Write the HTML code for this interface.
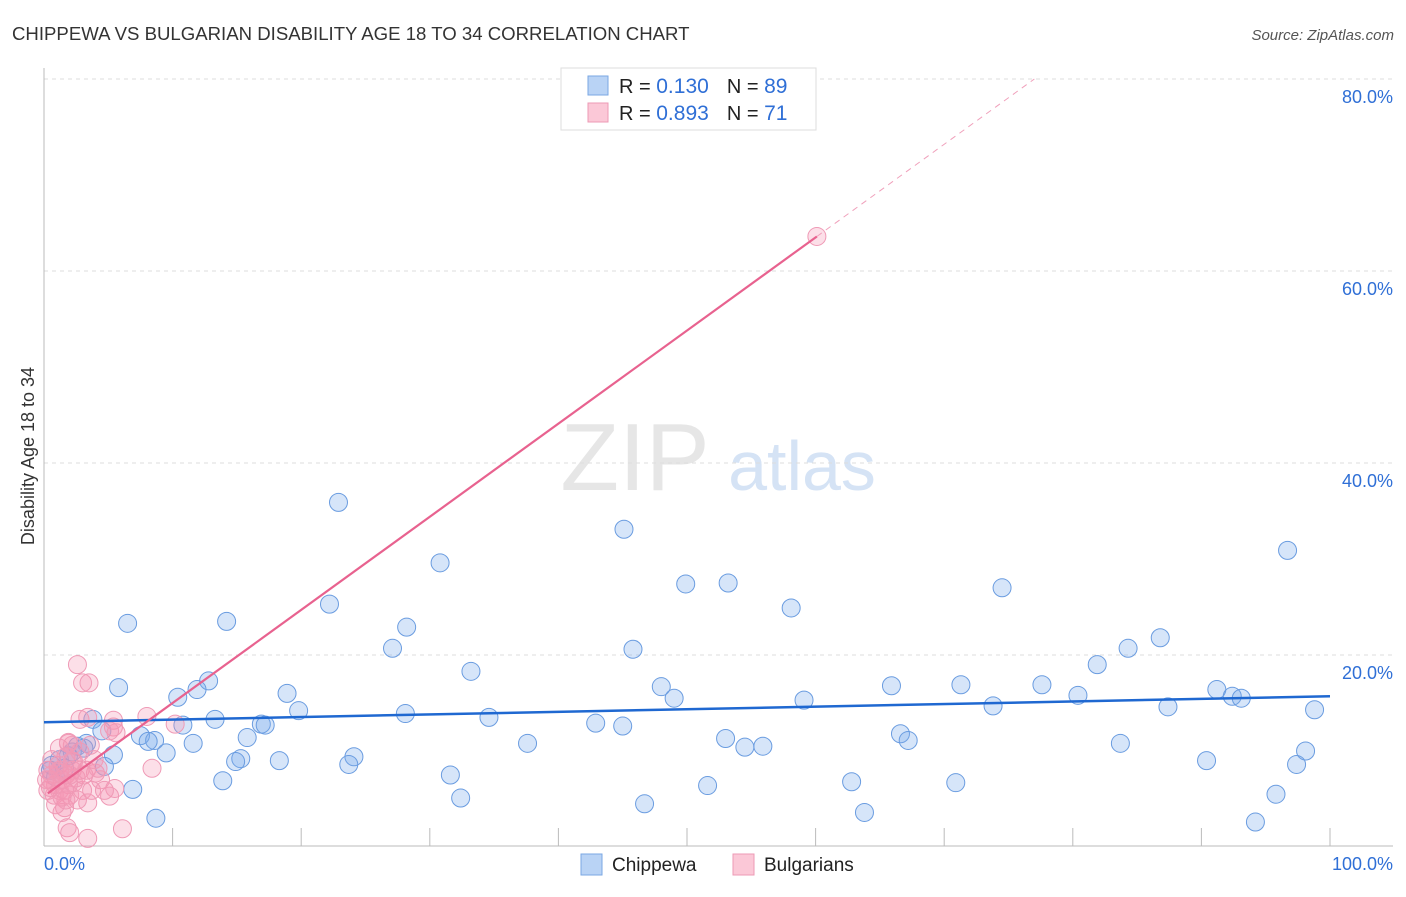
<!DOCTYPE html>
<html><head><meta charset="utf-8"><style>
body{margin:0;background:#fff;font-family:"Liberation Sans",sans-serif;}
svg text{font-family:"Liberation Sans",sans-serif;}
</style></head><body>
<svg id="chart" width="1406" height="892" xmlns="http://www.w3.org/2000/svg">
<text x="12" y="40" font-size="18.6" fill="#333">CHIPPEWA VS BULGARIAN DISABILITY AGE 18 TO 34 CORRELATION CHART</text>
<text x="1394" y="40" font-size="15" fill="#555" text-anchor="end" font-style="italic">Source: ZipAtlas.com</text>
<text x="34" y="456" font-size="18" fill="#333" text-anchor="middle" transform="rotate(-90 34 456)">Disability Age 18 to 34</text>
<g><text x="635" y="490" font-size="96" fill="#e6e6e6" text-anchor="middle" font-family="Liberation Serif">ZIP</text><text x="802" y="490" font-size="70" fill="#d5e3f5" text-anchor="middle">atlas</text></g>
<g id="grid"></g><g id="axes"></g><g id="pts"></g><g id="lines"></g>
<g>
<rect x="561" y="68" width="255" height="62" fill="#fff" stroke="#ddd"/>
<rect x="588" y="76" width="20" height="19" fill="#b9d3f5" stroke="#7aa7e3"/>
<rect x="588" y="103" width="20" height="19" fill="#fbc8d7" stroke="#ec9ab4"/>
<text x="619" y="93" font-size="20" fill="#222">R = <tspan fill="#2f6fd6" font-size="21">0.130</tspan><tspan dx="18">N = </tspan><tspan fill="#2f6fd6" font-size="21">89</tspan></text>
<text x="619" y="120" font-size="20" fill="#222">R = <tspan fill="#2f6fd6" font-size="21">0.893</tspan><tspan dx="18">N = </tspan><tspan fill="#2f6fd6" font-size="21"> 71</tspan></text>
</g>
<g>
<rect x="581" y="854" width="21" height="21" fill="#b9d3f5" stroke="#7aa7e3"/>
<text x="612" y="871" font-size="19" fill="#222">Chippewa</text>
<rect x="733" y="854" width="21" height="21" fill="#fbc8d7" stroke="#ec9ab4"/>
<text x="764" y="871" font-size="19" fill="#222">Bulgarians</text>
</g>
</svg>
<script>
const yTicks=[20,40,60,80];
const yTickLabels=["20.0%","40.0%","60.0%","80.0%"];
const xLabels=["0.0%","100.0%"];
const blueX=[22.9,45.1,30.8,96.7,49.9,53.2,74.5,22.2,58.1,6.5,14.2,28.2,86.8,27.1,45.8,84.3,81.9,33.2,5.8,12.8,11.9,10.4,48.0,49.0,65.9,71.3,77.6,80.4,91.2,92.4,93.1,59.1,18.9,73.8,87.4,98.8,19.8,3.8,13.3,34.6,28.1,16.9,17.2,10.8,42.9,45.0,4.5,7.5,8.6,8.1,15.8,11.6,3.3,2.6,53.0,66.6,67.2,37.6,54.5,55.9,83.7,9.5,5.4,98.1,24.1,15.3,14.9,18.3,23.7,90.4,97.4,31.6,13.9,62.8,70.9,51.6,6.9,32.4,46.7,95.8,63.8,8.7,94.2,0.6,1.2,1.9,2.2,0.5,3.1,4.7,0.9,1.6];
const blueY=[35.9,33.1,29.6,30.9,27.4,27.5,27.0,25.3,24.9,23.3,23.5,22.9,21.8,20.7,20.6,20.7,19.0,18.3,16.6,17.3,16.4,15.6,16.7,15.5,16.8,16.9,16.9,15.8,16.4,15.7,15.5,15.3,16.0,14.7,14.6,14.3,14.2,13.3,13.3,13.5,13.9,12.8,12.7,12.7,12.9,12.6,12.1,11.6,11.1,11.0,11.4,10.8,10.8,10.5,11.3,11.8,11.1,10.8,10.4,10.5,10.8,9.8,9.6,10.0,9.4,9.2,8.9,9.0,8.6,9.0,8.6,7.5,6.9,6.8,6.7,6.4,6.0,5.1,4.5,5.5,3.6,3.0,2.6,8.5,9.1,9.5,9.9,8.0,10.3,8.4,7.3,8.2];
const pinkX=[60.1,2.6,3.0,3.5,2.8,3.4,8.0,5.4,10.2,1.9,3.6,5.4,5.6,5.1,8.4,1.7,2.2,1.1,2.8,4.0,1.4,2.3,4.4,5.5,3.0,2.0,5.1,3.4,1.6,1.4,1.8,2.0,3.4,6.1,0.6,0.9,0.3,0.5,1.2,1.7,2.2,2.5,0.8,1.2,1.9,2.6,3.1,3.7,0.3,0.6,1.1,1.6,2.0,0.2,2.3,3.3,4.2,4.7,1.7,0.9,1.4,0.5,2.8,3.9,2.2,1.2,1.9];
const pinkY=[63.6,19.0,17.1,17.1,13.3,13.5,13.6,13.2,12.8,10.8,10.6,12.5,11.9,12.1,8.2,9.4,8.9,8.5,8.0,7.7,7.0,6.7,7.0,6.1,5.9,5.4,5.3,4.6,4.1,3.6,2.0,1.5,0.9,1.9,7.5,6.5,5.9,7.0,8.0,7.5,8.0,7.2,5.4,5.9,6.5,4.9,7.5,5.9,8.0,9.1,7.8,5.9,7.5,7.0,8.9,8.0,8.2,5.9,4.9,4.4,5.2,6.2,9.9,9.1,10.6,10.3,10.9];
const blueFit=[13.0,15.7];
const pinkFit=[5.3,0.97];
const NS='http://www.w3.org/2000/svg';
const X=v=>44+v*12.86, Y=v=>847-v*9.6;
function mk(t,a,p){const e=document.createElementNS(NS,t);for(const k in a)e.setAttribute(k,a[k]);p.appendChild(e);return e;}
const grid=document.getElementById('grid'),axes=document.getElementById('axes'),pts=document.getElementById('pts'),lines=document.getElementById('lines');
yTicks.forEach((t,i)=>{
 const l=mk('line',{x1:44,x2:1393,y1:Y(t),y2:Y(t),stroke:'#ddd','stroke-dasharray':'4,4'},grid);
 
 
 const tx=mk('text',{x:1393,y:Y(t)+24,'font-size':18,fill:'#2f6fd6','text-anchor':'end'},axes);
 tx.textContent=yTickLabels[i];
 
 
});
const ya=mk('line',{x1:44,x2:44,y1:68,y2:846,stroke:'#bbb'},axes);


const xa=mk('line',{x1:44,x2:1393,y1:846,y2:846,stroke:'#bbb'},axes);


for(let v=10;v<=100;v+=10){const t=mk('line',{x1:X(v),x2:X(v),y1:828,y2:846,stroke:'#bbb'},axes);
 
 }
[[0,'start',44],[100,'end',1393]].forEach((d,i)=>{const t=mk('text',{x:d[2],y:870,'font-size':18,fill:'#2f6fd6','text-anchor':d[1]},axes);t.textContent=xLabels[i];
 
 });
blueX.forEach((x,i)=>{const c=mk('circle',{cx:X(x),cy:Y(blueY[i]),r:9,fill:'rgba(120,170,235,0.3)',stroke:'#6a9ce0','stroke-width':1},pts);
 
 });
pinkX.forEach((x,i)=>{const c=mk('circle',{cx:X(x),cy:Y(pinkY[i]),r:9,fill:'rgba(245,150,180,0.3)',stroke:'#ef9ab6','stroke-width':1},pts);
 
 });
const bl=mk('line',{x1:X(0),y1:Y(blueFit[0]),x2:X(100),y2:Y(blueFit[1]),stroke:'#1f68d1','stroke-width':2.5},lines);


const pmax=Math.max(...pinkX), pend=(80-pinkFit[0])/pinkFit[1];
const pl=mk('line',{x1:X(0.3),y1:Y(pinkFit[0]+pinkFit[1]*0.3),x2:X(pmax),y2:Y(pinkFit[0]+pinkFit[1]*pmax),stroke:'#e8628f','stroke-width':2.2},lines);


const pd=mk('line',{x1:X(pmax),y1:Y(pinkFit[0]+pinkFit[1]*pmax),x2:X(pend),y2:Y(80),stroke:'#f0a0bb','stroke-width':1,'stroke-dasharray':'6,5'},lines);


</script>
</body></html>
